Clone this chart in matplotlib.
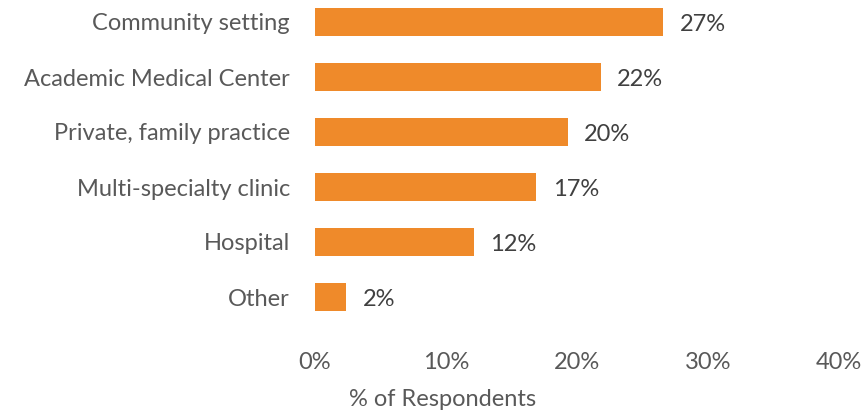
import matplotlib
matplotlib.use("Agg")
import matplotlib.pyplot as plt
from matplotlib.ticker import FuncFormatter

categories = ["Community setting", "Academic Medical Center", "Private, family practice",
              "Multi-specialty clinic", "Hospital", "Other"]
values = [26.6, 21.8, 19.3, 16.9, 12.1, 2.4]
value_labels = ["27%", "22%", "20%", "17%", "12%", "2%"]
xticks = [0, 10, 20, 30, 40]

plt.rcParams['font.family'] = ['Lato', 'DejaVu Sans']
FS = 17

fig = plt.figure(figsize=(8.61, 4.13), dpi=100)
ax = fig.add_axes([315/861, 1 - 324.5/413, (839-315)/861, 324.5/413])

bar_color = "#EF8A2A"
ypos = list(range(len(categories)))
ax.barh(ypos, values, height=0.51, color=bar_color)
for y, v, lab in zip(ypos, values, value_labels):
    ax.text(v + 1.25, y + 0.04, lab, va="center", ha="left", fontsize=FS, color="#404040")

ax.set_xlim(0, 40)
ax.set_ylim(5.5, -0.4)
ax.set_yticks(ypos)
ax.set_yticklabels(categories, fontsize=FS, color="#595959")
ax.set_xticks(xticks)
ax.xaxis.set_major_formatter(FuncFormatter(lambda x, p: f"{x:.0f}%"))
ax.tick_params(axis="x", labelsize=FS, labelcolor="#595959", length=0, pad=20)
ax.tick_params(axis="y", length=0, pad=18)
for s in ax.spines.values():
    s.set_visible(False)

fig.text(443/861, 1 - 400/413, "% of Respondents", ha="center", va="center",
         fontsize=FS, color="#595959")

fig.savefig("out.png", dpi=100)
